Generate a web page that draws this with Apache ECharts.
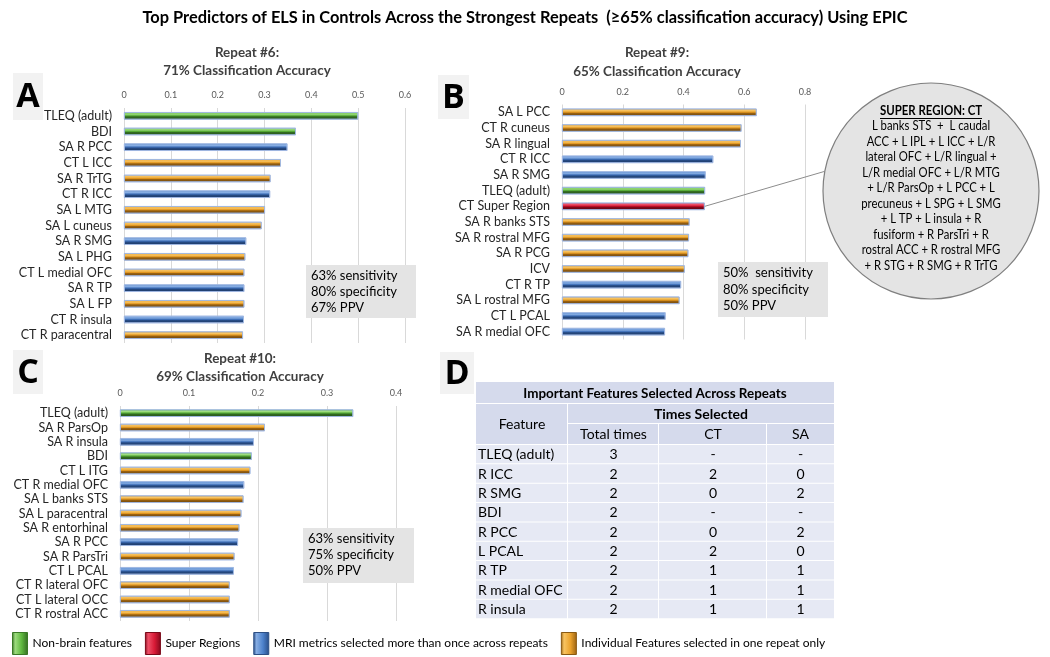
<!DOCTYPE html>
<html><head><meta charset="utf-8">
<script src="https://cdn.jsdelivr.net/npm/echarts@6/dist/echarts.min.js"></script>
<style>html,body{margin:0;padding:0;background:#fff}#c{width:1050px;height:657px}</style>
</head><body><div id="c"></div>
<script>
// ---------- DATA ----------
const mainTitle = 'Top Predictors of ELS in Controls Across the Strongest Repeats  (\u226565% classification accuracy) Using EPIC';
const groupNames = ['Non-brain features','Super Regions','MRI metrics selected more than once across repeats','Individual Features selected in one repeat only'];
const groupKeys = ['N','S','M','I'];

const titleA = ['Repeat #6:', '71% Classification Accuracy'];
const catsA = ['TLEQ (adult)','BDI','SA R PCC','CT L ICC','SA R TrTG','CT R ICC','SA L MTG','SA L cuneus','SA R SMG','SA L PHG','CT L medial OFC','SA R TP','SA L FP','CT R insula','CT R paracentral'];
const valsA = [0.500,0.367,0.349,0.335,0.313,0.312,0.301,0.294,0.261,0.259,0.257,0.257,0.257,0.256,0.254];
const grpA  = ['N','N','M','I','I','M','I','I','M','I','I','M','I','M','I'];
const statsA = ['63% sensitivity','80% specificity','67% PPV'];

const titleB = ['Repeat #9:', '65% Classification Accuracy'];
const catsB = ['SA L PCC','CT R cuneus','SA R lingual','CT R ICC','SA R SMG','TLEQ (adult)','CT Super Region','SA R banks STS','SA R rostral MFG','SA R PCG','ICV','CT R TP','SA L rostral MFG','CT L PCAL','SA R medial OFC'];
const valsB = [0.641,0.591,0.589,0.498,0.473,0.471,0.470,0.420,0.418,0.416,0.404,0.392,0.387,0.341,0.339];
const grpB  = ['I','I','I','M','M','N','S','I','I','I','I','M','I','M','M'];
const statsB = ['50%  sensitivity','80% specificity','50% PPV'];

const titleC = ['Repeat #10:', '69% Classification Accuracy'];
const catsC = ['TLEQ (adult)','SA R ParsOp','SA R insula','BDI','CT L ITG','CT R medial OFC','SA L banks STS','SA L paracentral','SA R entorhinal','SA R PCC','SA R ParsTri','CT L PCAL','CT R lateral OFC','CT L lateral OCC','CT R rostral ACC'];
const valsC = [0.338,0.210,0.194,0.191,0.189,0.180,0.179,0.176,0.173,0.171,0.166,0.165,0.159,0.159,0.159];
const grpC  = ['N','I','M','N','I','M','I','I','I','M','I','M','I','I','I'];
const statsC = ['63% sensitivity','75% specificity','50% PPV'];

const superTitle = 'SUPER REGION: CT';
const superLines = ['L banks STS  +  L caudal','ACC + L IPL + L ICC + L/R','lateral OFC + L/R lingual +','L/R medial OFC + L/R MTG','+ L/R ParsOp + L PCC + L','precuneus + L SPG + L SMG','+ L TP + L insula + R','fusiform + R ParsTri + R','rostral ACC + R rostral MFG','+ R STG + R SMG + R TrTG'];

const tableTitle = 'Important Features Selected Across Repeats';
const tableHead = ['Feature','Times Selected','Total times','CT','SA'];
const tblFeatures = ['TLEQ (adult)','R ICC','R SMG','BDI','R PCC','L PCAL','R TP','R medial OFC','R insula'];
const tblTotal = ['3','2','2','2','2','2','2','2','2'];
const tblCT = ['-','2','0','-','0','2','1','1','1'];
const tblSA = ['-','0','2','-','2','0','1','1','1'];

// ---------- STYLE ----------
const FONT = 'Lato, "Open Sans", sans-serif';
function grad(c) {
  return new echarts.graphic.LinearGradient(0,0,0,1,[
    {offset:0,color:c[0]},{offset:0.28,color:c[1]},{offset:0.5,color:c[2]},{offset:0.62,color:c[3]},{offset:1,color:c[4]}]);
}
const palettes = {
  N:['#5fb83f','#9ddc7e','#52a834','#336b22','#24501a'],
  S:['#d81a36','#ee5068','#c50d28','#82081b','#560512'],
  M:['#4d82cc','#86ade3','#3e6fb8','#274c86','#1b365f'],
  I:['#eba22c','#f8c462','#e0951e','#9a6212','#66410b']
};
const legendBorders = {N:'#3a7a26',S:'#7a0818',M:'#2c4f85',I:'#8a5a12'};

const panels = [
  {cats:catsA, vals:valsA, grp:grpA, grid:{left:124,width:281,top:108,height:235}, max:0.6, interval:0.1},
  {cats:catsB, vals:valsB, grp:grpB, grid:{left:562,width:243,top:104.5,height:235}, max:0.8, interval:0.2},
  {cats:catsC, vals:valsC, grp:grpC, grid:{left:120,width:276,top:406,height:215}, max:0.4, interval:0.1}
];

const grids = [], xAxes = [], yAxes = [], series = [];
panels.forEach((p, pi) => {
  grids.push(Object.assign({containLabel:false}, p.grid));
  xAxes.push({type:'value', gridIndex:pi, position:'top', min:0, max:p.max, interval:p.interval,
    axisLine:{show:false}, axisTick:{show:false},
    axisLabel:{fontSize:9, color:'#595959', fontFamily:FONT, margin:8},
    splitLine:{lineStyle:{color:'#d9d9d9', width:1}}});
  yAxes.push({type:'category', gridIndex:pi, data:p.cats, inverse:true,
    axisLine:{show:false}, axisTick:{show:false},
    axisLabel:{interval:0, fontSize:12.5, color:'#262626', fontFamily:FONT, margin:12}});
  groupKeys.forEach((g, gi) => {
    series.push({type:'bar', name:groupNames[gi], xAxisIndex:pi, yAxisIndex:pi, stack:'s'+pi,
      barWidth:7.5,
      data:p.vals.map((v,i)=> p.grp[i]===g ? v : '-'),
      itemStyle:{color:grad(palettes[g]), borderColor:'#9fb8e2', borderWidth:0.8}});
  });
});

const chart = echarts.init(document.getElementById('c'), null, {renderer:'canvas'});
chart.setOption({
  animation:false,
  textStyle:{fontFamily:FONT},
  grid:grids, xAxis:xAxes, yAxis:yAxes, series:series,
  legend:{left:7, top:627, itemWidth:15, itemHeight:22, itemGap:13, selectedMode:false, icon:'rect',
    textStyle:{fontSize:12, color:'#000', fontFamily:FONT},
    data:groupNames.map((n,i)=>({name:n, itemStyle:{borderColor:legendBorders[groupKeys[i]], borderWidth:1,
      color:new echarts.graphic.LinearGradient(0,0,1,0,[{offset:0,color:palettes[groupKeys[i]][3]},{offset:0.2,color:palettes[groupKeys[i]][1]},{offset:0.6,color:palettes[groupKeys[i]][0]},{offset:1,color:palettes[groupKeys[i]][3]}])}}))}
});

// ---------- GRAPHICS ----------
const G = [];
function txt(x,y,t,opt,sx){ G.push({type:'text', x:x, y:y, scaleX:sx||1, silent:true, z:20, style:Object.assign({text:t, fill:'#000', fontFamily:FONT, fontSize:13, textAlign:'left', textVerticalAlign:'middle'}, opt||{})}); }
function rect(x,y,w,h,fill,opt){ G.push(Object.assign({type:'rect', shape:{x:x,y:y,width:w,height:h}, silent:true, z:5, style:{fill:fill}}, opt||{})); }

// main title
txt(525, 18, mainTitle, {fontSize:17, fontWeight:'bold', textAlign:'center', fill:'#000'}, 0.965);

// panel titles
[[titleA,247,52,70],[titleB,657,52,71],[titleC,240,358,376]].forEach(([t,x,y1,y2])=>{
  txt(x,y1,t[0],{fontSize:14,fontWeight:'bold',textAlign:'center',fill:'#404040'},0.96);
  txt(x,y2,t[1],{fontSize:14,fontWeight:'bold',textAlign:'center',fill:'#404040'},0.96);
});

// panel letters
[['A',13,73,30,47],['B',438,75,31,44],['C',13,350,30,44],['D',440,352,34,42]].forEach(([l,x,y,w,h])=>{
  rect(x,y,w,h,'#f2f2f2');
  txt(x+w/2, y+h/2+1, l, {fontSize:34, fontWeight:'bold', textAlign:'center', fill:'#000', fontFamily:'"Open Sans", Lato, sans-serif'});
});

// stats boxes
[[statsA,306,265,110,53,276,16],[statsB,718,262,110,55,273,16.5],[statsC,303,528,111,55,539,16]].forEach(([s,x,y,w,h,ty,dy])=>{
  rect(x,y,w,h,'#e4e4e4');
  s.forEach((line,i)=>txt(x+5, ty+i*dy, line, {fontSize:13, fill:'#000'}));
});

// super region circle
const cx=931, cy=191, cr=108;
G.push({type:'circle', shape:{cx:cx,cy:cy,r:cr}, silent:true, z:6, style:{fill:'#e4e4e4', stroke:'#7f7f7f', lineWidth:1.2}});
txt(cx, 111, superTitle, {fontSize:13, fontWeight:'bold', textAlign:'center'}, 0.88);
G.push({type:'line', shape:{x1:cx-51,y1:118.5,x2:cx+51,y2:118.5}, silent:true, z:20, style:{stroke:'#000', lineWidth:1}});
superLines.forEach((l,i)=>txt(cx, 126+i*15.5, l, {fontSize:13, textAlign:'center'}, 0.87));

// connector line from the Super Region bar end to the circle
const si = grpB.indexOf('S');
const pe = chart.convertToPixel({gridIndex:1}, [valsB[si], catsB[si]]);
const ang = Math.PI*190.5/180;
G.push({type:'line', shape:{x1:pe[0], y1:pe[1], x2:cx+cr*Math.cos(ang), y2:cy+cr*Math.sin(ang)}, silent:true, z:7, style:{stroke:'#8c8c8c', lineWidth:1}});

// table
const tx=[476,568,659,767,834];
const rowY=[382,404,424,445];
const rowH=19.35;
const hdrFill='#d5daec', rowFill='#e6e9f4';
rect(tx[0], rowY[0], tx[4]-tx[0], rowY[1]-rowY[0]-1, hdrFill);
txt((tx[0]+tx[4])/2, (rowY[0]+rowY[1])/2, tableTitle, {fontSize:14, fontWeight:'bold', textAlign:'center'}, 0.96);
rect(tx[0], rowY[1], tx[1]-tx[0]-1, rowY[3]-rowY[1]-1, hdrFill);
txt((tx[0]+tx[1])/2, (rowY[1]+rowY[3])/2, tableHead[0], {fontSize:14, textAlign:'center'});
rect(tx[1], rowY[1], tx[4]-tx[1], rowY[2]-rowY[1]-1, hdrFill);
txt((tx[1]+tx[4])/2, (rowY[1]+rowY[2])/2, tableHead[1], {fontSize:14, fontWeight:'bold', textAlign:'center'});
for (let c=1;c<4;c++){
  rect(tx[c], rowY[2], tx[c+1]-tx[c]-(c<3?1:0), rowY[3]-rowY[2]-1, hdrFill);
  txt((tx[c]+tx[c+1])/2, (rowY[2]+rowY[3])/2, tableHead[c+1], {fontSize:14, textAlign:'center'});
}
tblFeatures.forEach((f,r)=>{
  const y = rowY[3] + r*rowH;
  const cells=[f, tblTotal[r], tblCT[r], tblSA[r]];
  for (let c=0;c<4;c++){
    rect(tx[c], y, tx[c+1]-tx[c]-(c<3?1:0), rowH-1, rowFill);
    if (c===0) txt(tx[0]+2, y+rowH/2, cells[c], {fontSize:14});
    else txt((tx[c]+tx[c+1])/2, y+rowH/2, cells[c], {fontSize:14, textAlign:'center'});
  }
});

chart.setOption({graphic:G});
</script></body></html>
